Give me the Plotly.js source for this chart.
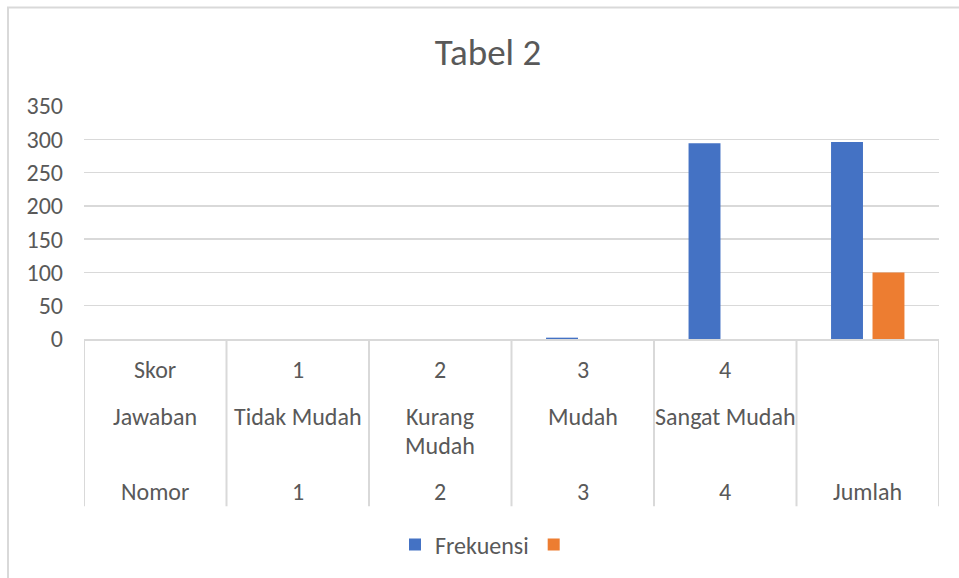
<!DOCTYPE html>
<html>
<head>
<meta charset="utf-8">
<script src="https://cdn.plot.ly/plotly-3.0.1.min.js"></script>
<style>html,body{margin:0;padding:0;background:#fff;}#chart{width:959px;height:578px;}</style>
</head>
<body>
<div id="chart"></div>
<script>
// Category rows (multi-level table under the x axis)
const rowSkor    = ["Skor", "1", "2", "3", "4", ""];
const rowJawaban = ["Jawaban", "Tidak Mudah", "Kurang\nMudah", "Mudah", "Sangat Mudah", ""];
const rowNomor   = ["Nomor", "1", "2", "3", "4", "Jumlah"];
// Series
const frekuensi  = [0, 0, 0, 2, 294, 296];
const series2    = [0, 0, 0, 0, 0, 100];
const yTicks     = [0, 50, 100, 150, 200, 250, 300, 350];

const FONT = "Carlito, Lato, 'Open Sans', sans-serif";
const TXT = "#595959";
const GRID = "#d9d9d9";

const cats = rowNomor.map((v, i) => i);  // category positions

const traces = [
  {type: "bar", name: "Frekuensi", x: cats, y: frekuensi, marker: {color: "#4472C4"}},
  {type: "bar", name: " ", x: cats, y: series2, marker: {color: "#ED7D31"}}
];

// plot area geometry in px (for paper conversions)
const L = 84, R = 939, T = 106, B = 340, H = B - T, W = R - L;
const py = p => (B - p) / H;
const px = p => (p - L) / W;

const annotations = [];
const rowsY = [371, 418, 493];
const rows = [rowSkor, rowJawaban, rowNomor];
rows.forEach((row, r) => {
  row.forEach((lab, i) => {
    lab.split("\n").forEach((line, k) => {
      if (!line) return;
      annotations.push({
        xref: "x", yref: "paper", x: cats[i], y: py(rowsY[r] + k * 29),
        text: line, showarrow: false, xanchor: "center", yanchor: "middle",
        font: {family: FONT, size: 24, color: TXT}
      });
    });
  });
});

const shapes = [];
for (let i = 0; i <= cats.length; i++) {
  shapes.push({type: "line", xref: "x", yref: "paper", x0: i - 0.5, x1: i - 0.5,
    y0: 0, y1: py(508), line: {color: GRID, width: 2}});
}
// chart area border
shapes.push({type: "rect", xref: "paper", yref: "paper",
  x0: px(8), x1: px(990), y0: py(620), y1: py(7),
  line: {color: GRID, width: 2}, layer: "below"});

const layout = {
  width: 959, height: 578,
  margin: {l: L, r: 959 - R, t: T, b: 578 - B},
  paper_bgcolor: "#fff", plot_bgcolor: "#fff",
  font: {family: FONT, color: TXT, size: 24},
  title: {text: "Tabel 2", x: 488 / 959, xanchor: "center", y: 1 - 52 / 578, yanchor: "middle",
          xref: "container", yref: "container", automargin: false,
          font: {family: FONT, size: 37, color: TXT}},
  barmode: "group", bargap: 0.418, bargroupgap: 0.23,
  xaxis: {type: "linear", range: [-0.5, cats.length - 0.5], showticklabels: false, ticks: "",
          showgrid: false, zeroline: false, showline: true, linecolor: GRID, linewidth: 2,
          fixedrange: true, automargin: false},
  yaxis: {range: [0, 350], tickvals: yTicks, ticktext: yTicks.map(String), showgrid: true,
          gridcolor: GRID, gridwidth: 1.5, zeroline: false, showline: false, ticks: "",
          ticklabelstandoff: 20, automargin: false, tickfont: {family: FONT, size: 24, color: TXT}},
  showlegend: true,
  legend: {orientation: "h", x: px(490), xanchor: "center",
           y: py(545), yanchor: "middle", font: {family: FONT, size: 24, color: TXT},
           traceorder: "normal"},
  annotations: annotations,
  shapes: shapes
};

Plotly.newPlot("chart", traces, layout, {displayModeBar: false, staticPlot: true});
</script>
</body>
</html>
